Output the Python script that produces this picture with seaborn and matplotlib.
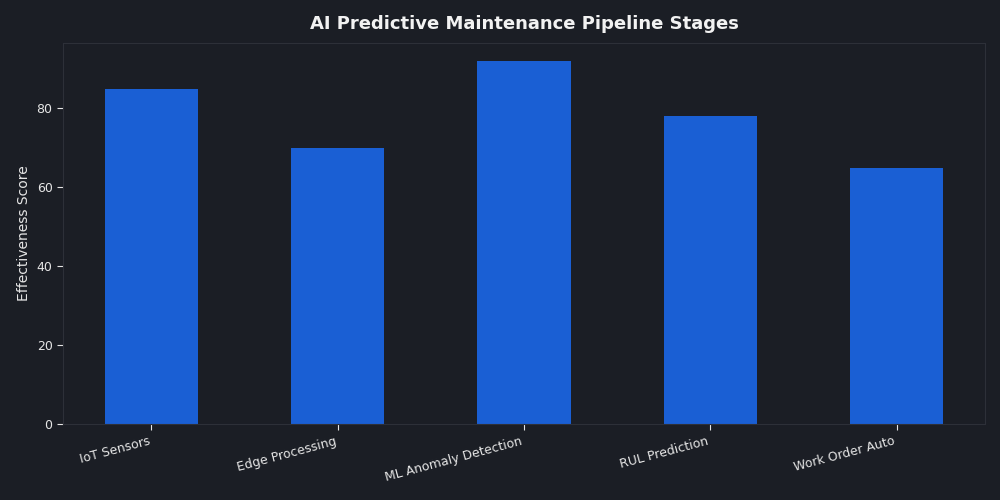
import seaborn as sns
import pandas as pd
from matplotlib import pyplot as plt

stages = ['IoT Sensors', 'Edge Processing', 'ML Anomaly Detection', 'RUL Prediction', 'Work Order Auto']
scores = [85, 70, 92, 78, 65]

dados = pd.DataFrame({'stage': stages, 'score': scores})

bg = '#1b1e25'
txt = '#e6e6e6'

sns.set_style('dark')
plt.rcParams['font.family'] = ['DejaVu Sans']

fig = plt.figure(figsize=(10, 5), dpi=100, facecolor=bg)
ax = fig.add_axes([0.063, 0.152, 0.922, 0.762])
ax.set_facecolor(bg)

sns.barplot(data=dados, x='stage', y='score', color='#1a5fd4', width=0.5, saturation=1,
            linewidth=0, edgecolor='none', ax=ax)
ax.set_xlim(-0.475, 4.475)
ax.set_ylim(0, 96.6)

ax.set_title('AI Predictive Maintenance Pipeline Stages', color='#f2f2f2', fontsize=13, fontweight='bold', pad=10)
ax.set_xlabel('')
ax.set_ylabel('Effectiveness Score', color=txt, fontsize=10)
ax.tick_params(colors=txt, labelcolor=txt, labelsize=9, length=4, left=True, bottom=True)
plt.setp(ax.get_xticklabels(), rotation=15, ha='right')
ax.grid(False)
for s in ax.spines.values():
    s.set_visible(True)
    s.set_color('#2d3038')
    s.set_linewidth(0.8)

plt.savefig('out.png', facecolor=bg)
